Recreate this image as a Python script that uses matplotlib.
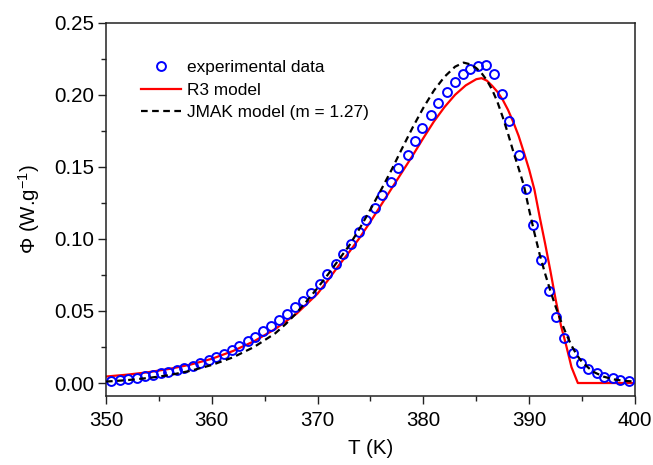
import matplotlib
matplotlib.use("Agg")
import matplotlib.pyplot as plt
from matplotlib.ticker import MultipleLocator, FormatStrFormatter

plt.rcParams['font.family'] = ['Liberation Sans', 'DejaVu Sans']
plt.rcParams['mathtext.fontset'] = 'custom'
plt.rcParams['mathtext.rm'] = 'Liberation Sans'
plt.rcParams['mathtext.it'] = 'Liberation Sans:italic'
plt.rcParams['mathtext.default'] = 'regular'

# ---- data ----
T_exp = [350.5, 351.3, 352.1, 352.9, 353.7, 354.4, 355.2, 355.9, 356.7, 357.4,
         358.2, 358.9, 359.7, 360.4, 361.2, 361.9, 362.6, 363.4, 364.1, 364.8,
         365.6, 366.4, 367.1, 367.9, 368.6, 369.4, 370.2, 370.9, 371.7, 372.4,
         373.2, 373.9, 374.6, 375.4, 376.1, 376.9, 377.6, 378.5, 379.2, 379.9,
         380.7, 381.4, 382.2, 383.0, 383.7, 384.4, 385.2, 385.9, 386.7, 387.4,
         388.1, 389.0, 389.7, 390.4, 391.1, 391.9, 392.5, 393.3, 394.1, 394.9,
         395.6, 396.4, 397.1, 397.9, 398.6, 399.4]
phi_exp = [0.0014, 0.0021, 0.0029, 0.0038, 0.0047, 0.0057, 0.0067, 0.0079, 0.0091, 0.0106,
           0.0121, 0.0138, 0.0158, 0.0180, 0.0204, 0.0231, 0.0259, 0.0289, 0.0322, 0.0358,
           0.0397, 0.0437, 0.0480, 0.0525, 0.0570, 0.0628, 0.0690, 0.0755, 0.0826, 0.0895,
           0.0965, 0.1045, 0.1128, 0.1212, 0.1305, 0.1397, 0.1490, 0.1580, 0.1679, 0.1768,
           0.1860, 0.1945, 0.2022, 0.2087, 0.2142, 0.2177, 0.2202, 0.2207, 0.2142, 0.2003,
           0.1816, 0.1582, 0.1346, 0.1096, 0.0854, 0.0638, 0.0460, 0.0310, 0.0206, 0.0137,
           0.0095, 0.0067, 0.0044, 0.0035, 0.0021, 0.0016]

T_r3 = [350, 352, 354, 356, 358, 360, 362, 364, 366, 368, 370, 371, 372, 373, 374,
        375, 376, 377, 378, 379, 380, 381, 382, 383, 384, 385, 385.5, 386, 386.5,
        387, 387.5, 388, 388.5, 389, 389.5, 390, 390.5, 391, 391.5, 392, 392.5,
        393, 393.5, 394, 394.6, 395, 400]
phi_r3 = [0.0045, 0.0058, 0.0075, 0.0098, 0.0128, 0.0168, 0.0222, 0.0290, 0.0375, 0.0480,
          0.0620, 0.0715, 0.0815, 0.0910, 0.1010, 0.1120, 0.1235, 0.1350, 0.1465, 0.1580,
          0.1700, 0.1815, 0.1915, 0.2000, 0.2065, 0.2108, 0.2115, 0.2098, 0.2062,
          0.2020, 0.1965, 0.1895, 0.1810, 0.1715, 0.1600, 0.1480, 0.1340, 0.1150, 0.0970,
          0.0780, 0.0580, 0.0400, 0.0260, 0.0110, 0.0, 0.0, 0.0]

T_jmak = [350, 352, 354, 356, 358, 360, 362, 364, 366, 367, 368, 369, 370, 371, 372,
          373, 374, 375, 376, 377, 378, 379, 380, 381, 382, 383, 383.8, 384.5, 385,
          385.5, 386, 386.5, 387, 387.5, 388, 388.5, 389, 389.5, 390, 390.5, 391,
          391.5, 392, 392.5, 393, 393.5, 394, 394.5, 395, 396, 397, 398, 399, 400]
phi_jmak = [0.0010, 0.0020, 0.0035, 0.0055, 0.0085, 0.0125, 0.0178, 0.0250, 0.0345, 0.0410,
            0.0485, 0.0570, 0.0660, 0.0755, 0.0855, 0.0955, 0.1075, 0.1205, 0.1340, 0.1480,
            0.1630, 0.1775, 0.1910, 0.2030, 0.2125, 0.2195, 0.2223, 0.2210, 0.2185,
            0.2150, 0.2100, 0.2035, 0.1950, 0.1845, 0.1730, 0.1605, 0.1490, 0.1370, 0.1200,
            0.1040, 0.0890, 0.0760, 0.0640, 0.0530, 0.0430, 0.0340, 0.0260, 0.0195, 0.0145,
            0.0080, 0.0045, 0.0025, 0.0015, 0.0010]

labels = ['experimental data', 'R3 model', 'JMAK model (m = 1.27)']

fig = plt.figure(figsize=(6.53, 4.65), dpi=100)
ax = fig.add_axes([0.1623, 0.1484, 0.8101, 0.8028])

ax.plot(T_exp, phi_exp, linestyle='none', marker='o', markersize=6.4,
        markerfacecolor='none', markeredgecolor='#0000ff', markeredgewidth=1.4,
        label=labels[0], zorder=3)
ax.plot(T_r3, phi_r3, color='#ff0000', lw=1.6, label=labels[1], zorder=2)
ax.plot(T_jmak, phi_jmak, color='black', lw=1.6, dashes=(3, 2), label=labels[2], zorder=4)

ax.set_xlim(350, 400)
ax.set_ylim(-0.009, 0.25)
ax.xaxis.set_major_locator(MultipleLocator(10))
ax.xaxis.set_minor_locator(MultipleLocator(5))
ax.yaxis.set_major_locator(MultipleLocator(0.05))
ax.yaxis.set_minor_locator(MultipleLocator(0.025))
ax.yaxis.set_major_formatter(FormatStrFormatter('%.2f'))
ax.tick_params(which='both', direction='out', top=False, right=False,
               labelsize=14.8, width=1.0, color='#222222')
ax.tick_params(which='major', length=5.5, pad=3)
ax.tick_params(axis='x', which='major', pad=5)
ax.tick_params(which='minor', length=3.5)
for s in ax.spines.values():
    s.set_linewidth(1.1)
    s.set_color('#222222')

ax.set_xlabel('T (K)', fontsize=14.8, labelpad=7)
ax.set_ylabel('Φ (W.g$^{-1}$)', fontsize=14.8, labelpad=9)

leg = ax.legend(loc='upper left', bbox_to_anchor=(0.066, 0.90), frameon=False,
                fontsize=12.4, handlelength=2.35, handletextpad=0.35,
                labelspacing=0.43, borderpad=0, borderaxespad=0)

fig.savefig('out.png', dpi=100)
